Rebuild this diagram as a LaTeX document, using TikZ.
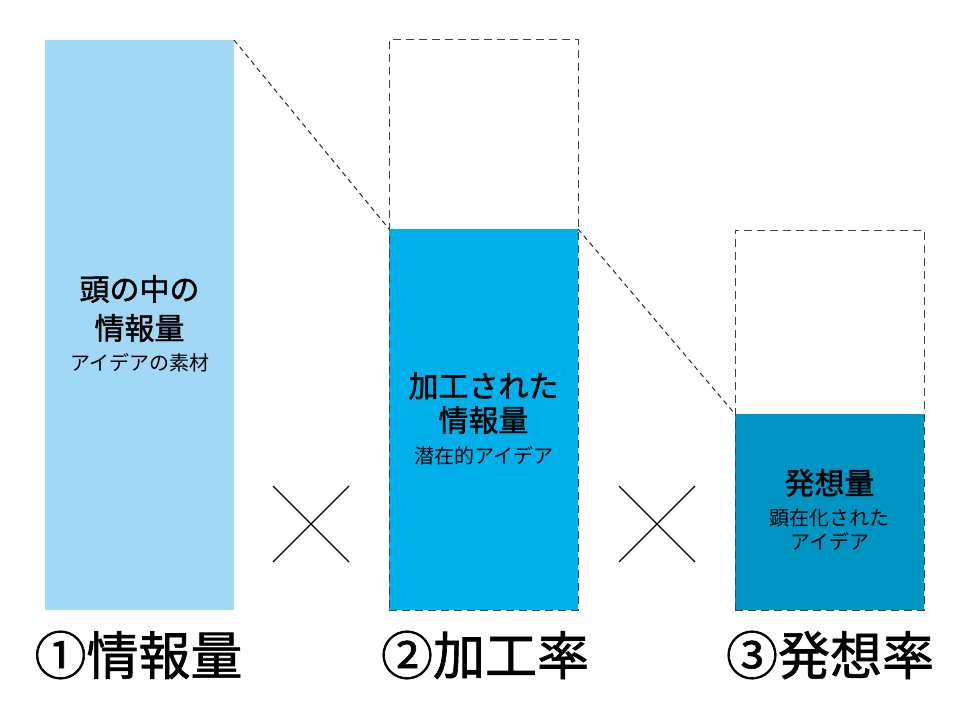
\documentclass[tikz,border=0pt]{standalone}
\usepackage{fontspec}
\setmainfont{Noto Sans CJK JP}
\newfontfamily\headfont{Noto Sans CJK JP}[FakeBold=1.4]
\newfontfamily\capfont{Noto Sans CJK JP}[FakeBold=1.2]
\definecolor{infoblue}{HTML}{A0D8F5}
\definecolor{procblue}{HTML}{00B0EA}
\definecolor{ideablue}{HTML}{0094C2}
\begin{document}
\begin{tikzpicture}[x=1pt, y=-1pt,
    column/.style={anchor=north west, minimum width=189pt, inner sep=0pt, outer sep=0pt},
    frame/.style={column, draw=black!75, dash pattern=on 8pt off 5pt, line width=1pt},
    guide/.style={draw=black!85, dash pattern=on 5pt off 4pt, line width=1pt},
    cross/.style={line width=1.3pt},
    head/.style={font=\headfont\fontsize{30}{36}\selectfont},
    note/.style={font=\fontsize{20}{24}\selectfont},
    caption/.style={font=\capfont\fontsize{52}{60}\selectfont}]
    \useasboundingbox (0, 0) rectangle (971, 722);
    % bars
    \node [column, fill=infoblue, minimum height=570pt] (info) at (45, 40) {};
    \node [column, fill=procblue, minimum height=381pt] (proc) at (389, 229) {};
    \node [frame, minimum height=570pt] (procbox) at (389, 40) {};
    \node [column, fill=ideablue, minimum height=196pt] (idea) at (735, 414) {};
    \node [frame, minimum height=380pt] (ideabox) at (735, 230) {};
    % guides
    \draw [guide] (info.north east) -- (proc.north west);
    \draw [guide] (proc.north east) -- (idea.north west);
    % times signs
    \foreach \cx in {311, 657}
        \draw [cross] (\cx-38, 486) -- (\cx+38, 562) (\cx-38, 562) -- (\cx+38, 486);
    % texts in bars
    \node [head] (infoA) at (139.5, 289) {頭の中の};
    \node [head] (infoB) at (139.5, 328) {情報量};
    \node [note] (infoC) at (139.5, 363) {アイデアの素材};
    \node [head] (procA) at (483.5, 386) {加工された};
    \node [head] (procB) at (483.5, 420) {情報量};
    \node [note] (procC) at (483.5, 456) {潜在的アイデア};
    \node [head] (ideaA) at (829.5, 483) {発想量};
    \node [note] (ideaB) at (829.5, 518) {顕在化された};
    \node [note] (ideaC) at (829.5, 542) {アイデア};
    % captions
    \node [caption] (capA) at (138.5, 655) {①情報量};
    \node [caption] (capB) at (485, 655) {②加工率};
    \node [caption] (capC) at (830, 655) {③発想率};
\end{tikzpicture}
\end{document}
